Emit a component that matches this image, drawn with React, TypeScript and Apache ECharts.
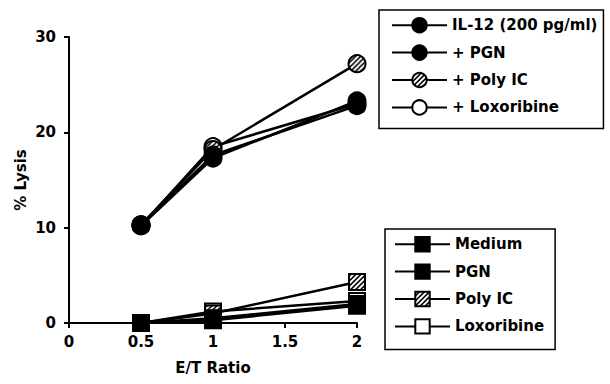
import React, { useEffect, useRef } from "react";
import * as echarts from "echarts";

const xValues = [0.5, 1, 2];
const circleNames = ["IL-12 (200 pg/ml)", "+ PGN", "+ Poly IC", "+ Loxoribine"];
const il12 = [10.2, 17.3, 23.3];
const il12Pgn = [10.3, 17.6, 22.8];
const il12PolyIC = [10.3, 18.2, 27.2];
const il12Loxo = [10.2, 18.5, 23.0];
const squareNames = ["Medium", "PGN", "Poly IC", "Loxoribine"];
const medium = [0, 0.3, 1.8];
const pgn = [0, 0.5, 2.0];
const polyIC = [0, 1.0, 4.3];
const loxo = [0, 1.2, 2.3];
const xTicks = [0, 0.5, 1, 1.5, 2];

const TILE = 20;
function hatchURL(): string {
  const s = TILE;
  const c = document.createElement("canvas");
  c.width = s;
  c.height = s;
  const ctx = c.getContext("2d")!;
  const img = ctx.createImageData(s, s);
  for (let y = 0; y < s; y++) {
    for (let x = 0; x < s; x++) {
      const i = (y * s + x) * 4;
      const black = (x + y) % s < 9;
      const v = black ? 0 : 255;
      img.data[i] = v;
      img.data[i + 1] = v;
      img.data[i + 2] = v;
      img.data[i + 3] = 255;
    }
  }
  ctx.putImageData(img, 0, 0);
  return c.toDataURL();
}

export default function App() {
  const ref = useRef<HTMLDivElement>(null);
  useEffect(() => {
    if (!ref.current) return;
    const chart = echarts.init(ref.current, undefined, { renderer: "svg" });
    const url = hatchURL();
    const tilePx = 5;
    const hatchFor = (size: number) =>
      ({ image: url, repeat: "repeat", scaleX: (tilePx / TILE) * (2 / size), scaleY: (tilePx / TILE) * (2 / size) } as any);
    const hatchLegend = { image: url, repeat: "repeat", scaleX: tilePx / TILE, scaleY: tilePx / TILE } as any;
    const font = "'DejaVu Sans', Verdana, sans-serif";
    const mk = (name: string, vals: number[], symbol: string, fill: any, size: number, z: number) => ({
      name,
      type: "line",
      data: xValues.map((x, i) => [x, vals[i]]),
      symbol,
      symbolSize: size,
      showSymbol: true,
      z,
      lineStyle: { color: "#000", width: 2.5 },
      itemStyle: { color: fill, borderColor: "#000", borderWidth: 2, opacity: 1 },
      emphasis: { disabled: true },
    });
    const txt = { fontFamily: font, fontWeight: "bold", fontSize: 15, color: "#000" };
    const legendBase = {
      orient: "vertical",
      borderColor: "#000",
      borderWidth: 1.5,
      itemHeight: 18,
      itemGap: 11,
      selectedMode: false,
      textStyle: txt,
    };
    chart.setOption({
      animation: false,
      grid: { left: 69, right: 253, top: 37, bottom: 61, containLabel: false },
      xAxis: {
        type: "value",
        min: 0,
        max: 2,
        interval: 0.5,
        name: "E/T Ratio",
        nameLocation: "middle",
        nameGap: 37,
        nameTextStyle: txt,
        axisLine: { lineStyle: { color: "#000", width: 2 } },
        axisTick: { show: true, length: 5, lineStyle: { color: "#000", width: 2 } },
        axisLabel: {
          ...txt,
          margin: 11,
          formatter: (v: number) => (xTicks.includes(v) ? String(v) : ""),
        },
        splitLine: { show: false },
      },
      yAxis: {
        type: "value",
        min: 0,
        max: 30,
        interval: 10,
        name: "% Lysis",
        nameLocation: "middle",
        nameGap: 41,
        nameRotate: 90,
        nameTextStyle: txt,
        axisLine: { show: true, lineStyle: { color: "#000", width: 2 } },
        axisTick: { show: true, length: 5, lineStyle: { color: "#000", width: 2 } },
        axisLabel: { ...txt, margin: 13 },
        splitLine: { show: false },
      },
      legend: [
        {
          ...legendBase,
          itemWidth: 55,
          data: circleNames.map((n, i) => (i === 2 ? { name: n, itemStyle: { color: hatchLegend } } : n)),
          left: 379,
          top: 10,
          padding: [7, 6, 13, 12],
        },
        {
          ...legendBase,
          itemWidth: 55,
          data: squareNames.map((n, i) => (i === 2 ? { name: n, itemStyle: { color: hatchLegend } } : n)),
          left: 385,
          top: 229,
          padding: [7, 11, 15, 9],
        },
      ],
      series: [
        mk(circleNames[3], il12Loxo, "circle", "#fff", 17, 2),
        mk(circleNames[2], il12PolyIC, "circle", hatchFor(17), 17, 3),
        mk(circleNames[1], il12Pgn, "circle", "#000", 17, 4),
        mk(circleNames[0], il12, "circle", "#000", 17, 5),
        mk(squareNames[3], loxo, "rect", "#fff", 16, 2),
        mk(squareNames[2], polyIC, "rect", hatchFor(16), 16, 3),
        mk(squareNames[1], pgn, "rect", "#000", 16, 4),
        mk(squareNames[0], medium, "rect", "#000", 16, 5),
      ],
    } as any);
    return () => chart.dispose();
  }, []);
  return <div ref={ref} style={{ width: 610, height: 384, position: "absolute", left: 0, top: 0, background: "#fff" }} />;
}
